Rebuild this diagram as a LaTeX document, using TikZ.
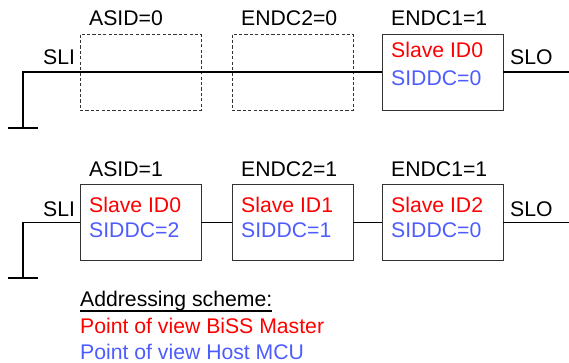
\documentclass[tikz,border=0pt]{standalone}
\usepackage{fontspec}
\setmainfont{Liberation Sans}
\usepackage{xcolor}
\usetikzlibrary{positioning,calc}

\definecolor{masterred}{RGB}{255,0,0}
\definecolor{hostblue}{RGB}{77,92,255}

\begin{document}
\begin{tikzpicture}[
    x=1pt, y=-1pt,
    every node/.style={font=\fontsize{21.2}{25}\selectfont, inner sep=0pt},
    slavebox/.style={draw=black!80, line width=0.9pt, minimum width=121pt, minimum height=76pt},
    emptybox/.style={draw=black!80, line width=0.9pt, dash pattern=on 3.2pt off 2.2pt, minimum width=121pt, minimum height=76pt},
    wire/.style={line width=1.2pt},
    gnd/.style={line width=2.6pt},
    txt/.style={anchor=base west}
]
\useasboundingbox (0,0) rectangle (569,363);

% top row: only the last slave is present
\node[emptybox] (eA) at (140.5,72) {};
\node[emptybox] (eB) at (292.5,72) {};
\node[slavebox] (tC) at (442.5,72) {};
\node[txt] (lblA) at (89,26) {ASID=0};
\node[txt] (lblB) at (241,26) {ENDC2=0};
\node[txt] (lblC) at (391,26) {ENDC1=1};
\node[txt, text=masterred] (idT) at (391,58) {Slave ID0};
\node[txt, text=hostblue] (siT) at (391,86) {SIDDC=0};
\node[txt] (sliT) at (43,65) {SLI};
\node[txt] (sloT) at (510,65) {SLO};
\coordinate (gT) at (23,128);
\coordinate (outT) at (569,72);
\draw[wire] (gT) |- (tC.west);
\draw[wire] (tC.east) -- (outT);
\draw[gnd] ([xshift=-15pt]gT) -- ([xshift=15pt]gT);

% bottom row: three slaves in a chain
\node[slavebox] (bA) at (140.5,222.5) {};
\node[slavebox] (bB) at (292.5,222.5) {};
\node[slavebox] (bC) at (442.5,222.5) {};
\node[txt] (lblD) at (89,177) {ASID=1};
\node[txt] (lblE) at (241,177) {ENDC2=1};
\node[txt] (lblF) at (391,177) {ENDC1=1};
\foreach \n/\x/\i/\s in {bA/89/0/2, bB/241/1/1, bC/391/2/0}{
    \node[txt, text=masterred] (id\n) at (\x,212) {Slave ID\i};
    \node[txt, text=hostblue] (si\n) at (\x,237.5) {SIDDC=\s};
}
\node[txt] (sliB) at (43,216.5) {SLI};
\node[txt] (sloB) at (510,216.5) {SLO};
\coordinate (gB) at (23,278);
\coordinate (outB) at (569,222.5);
\draw[wire] (gB) |- (bA.west);
\draw[wire] (bA.east) -- (bB.west);
\draw[wire] (bB.east) -- (bC.west);
\draw[wire] (bC.east) -- (outB);
\draw[gnd] ([xshift=-15pt]gB) -- ([xshift=15pt]gB);

% legend
\node[txt] (leg) at (80,306.5) {Addressing scheme:};
\draw[line width=1.5pt] ([yshift=-4.5pt]leg.base west) -- ([yshift=-4.5pt]leg.base east);
\node[txt, text=masterred] (legM) at (80,333) {Point of view BiSS Master};
\node[txt, text=hostblue] (legH) at (80,359) {Point of view Host MCU};
\end{tikzpicture}
\end{document}
